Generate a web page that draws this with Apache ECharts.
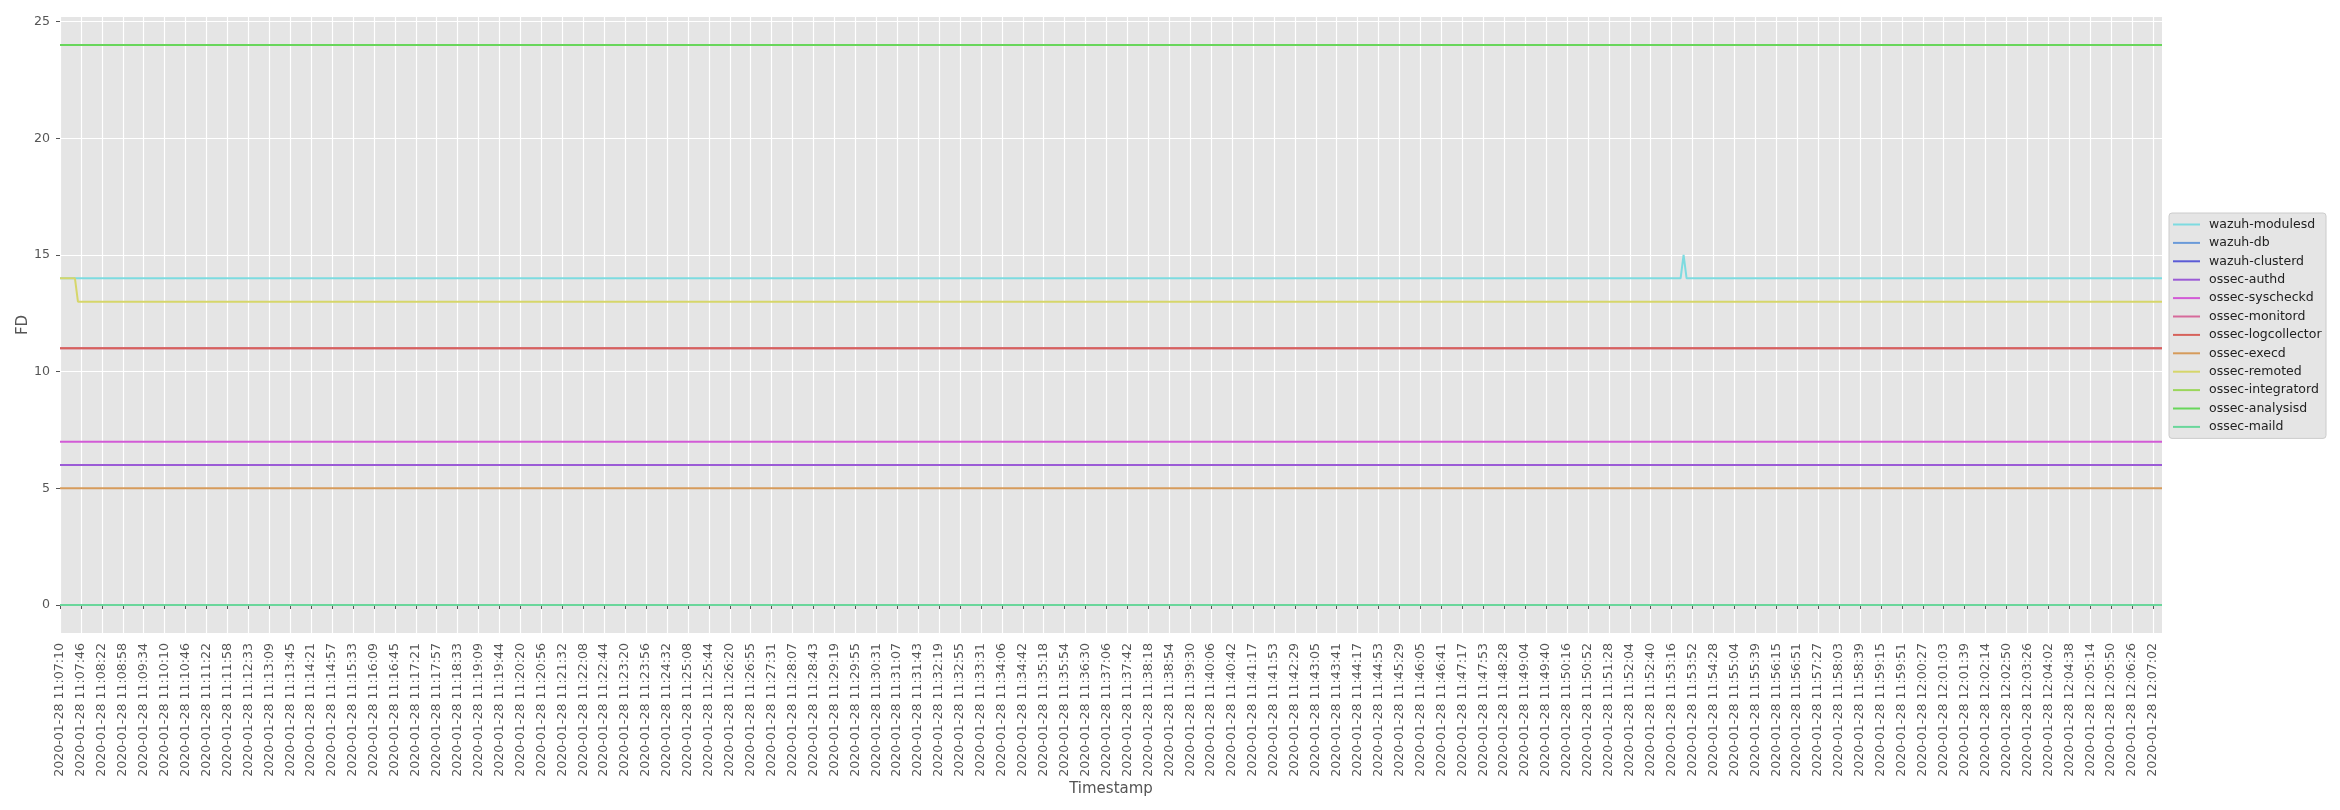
<!DOCTYPE html>
<html>
<head>
<meta charset="utf-8">
<script src="https://cdn.jsdelivr.net/npm/echarts@6/dist/echarts.min.js"></script>
<style>
  html, body { margin: 0; padding: 0; background: #ffffff; }
  #chart { width: 2340px; height: 810px; }
</style>
</head>
<body>
<div id="chart"></div>
<script>
// ---- data ----
const tickLabels = [
  "2020-01-28 11:07:10","2020-01-28 11:07:46","2020-01-28 11:08:22","2020-01-28 11:08:58","2020-01-28 11:09:34",
  "2020-01-28 11:10:10","2020-01-28 11:10:46","2020-01-28 11:11:22","2020-01-28 11:11:58","2020-01-28 11:12:33",
  "2020-01-28 11:13:09","2020-01-28 11:13:45","2020-01-28 11:14:21","2020-01-28 11:14:57","2020-01-28 11:15:33",
  "2020-01-28 11:16:09","2020-01-28 11:16:45","2020-01-28 11:17:21","2020-01-28 11:17:57","2020-01-28 11:18:33",
  "2020-01-28 11:19:09","2020-01-28 11:19:44","2020-01-28 11:20:20","2020-01-28 11:20:56","2020-01-28 11:21:32",
  "2020-01-28 11:22:08","2020-01-28 11:22:44","2020-01-28 11:23:20","2020-01-28 11:23:56","2020-01-28 11:24:32",
  "2020-01-28 11:25:08","2020-01-28 11:25:44","2020-01-28 11:26:20","2020-01-28 11:26:55","2020-01-28 11:27:31",
  "2020-01-28 11:28:07","2020-01-28 11:28:43","2020-01-28 11:29:19","2020-01-28 11:29:55","2020-01-28 11:30:31",
  "2020-01-28 11:31:07","2020-01-28 11:31:43","2020-01-28 11:32:19","2020-01-28 11:32:55","2020-01-28 11:33:31",
  "2020-01-28 11:34:06","2020-01-28 11:34:42","2020-01-28 11:35:18","2020-01-28 11:35:54","2020-01-28 11:36:30",
  "2020-01-28 11:37:06","2020-01-28 11:37:42","2020-01-28 11:38:18","2020-01-28 11:38:54","2020-01-28 11:39:30",
  "2020-01-28 11:40:06","2020-01-28 11:40:42","2020-01-28 11:41:17","2020-01-28 11:41:53","2020-01-28 11:42:29",
  "2020-01-28 11:43:05","2020-01-28 11:43:41","2020-01-28 11:44:17","2020-01-28 11:44:53","2020-01-28 11:45:29",
  "2020-01-28 11:46:05","2020-01-28 11:46:41","2020-01-28 11:47:17","2020-01-28 11:47:53","2020-01-28 11:48:28",
  "2020-01-28 11:49:04","2020-01-28 11:49:40","2020-01-28 11:50:16","2020-01-28 11:50:52","2020-01-28 11:51:28",
  "2020-01-28 11:52:04","2020-01-28 11:52:40","2020-01-28 11:53:16","2020-01-28 11:53:52","2020-01-28 11:54:28",
  "2020-01-28 11:55:04","2020-01-28 11:55:39","2020-01-28 11:56:15","2020-01-28 11:56:51","2020-01-28 11:57:27",
  "2020-01-28 11:58:03","2020-01-28 11:58:39","2020-01-28 11:59:15","2020-01-28 11:59:51","2020-01-28 12:00:27",
  "2020-01-28 12:01:03","2020-01-28 12:01:39","2020-01-28 12:02:14","2020-01-28 12:02:50","2020-01-28 12:03:26",
  "2020-01-28 12:04:02","2020-01-28 12:04:38","2020-01-28 12:05:14","2020-01-28 12:05:50","2020-01-28 12:06:26",
  "2020-01-28 12:07:02"
];
const samplesPerTick = 7;      // samples between labelled ticks
const lastSample = 703;        // index of the last sample
const yTicks = [0, 5, 10, 15, 20, 25];

const seriesNames = [
  "wazuh-modulesd","wazuh-db","wazuh-clusterd","ossec-authd","ossec-syscheckd","ossec-monitord",
  "ossec-logcollector","ossec-execd","ossec-remoted","ossec-integratord","ossec-analysisd","ossec-maild"
];

// [sample index, FD] breakpoints of each series
const wazuhModulesd    = [[0,14],[542,14],[543,15],[544,14],[703,14]];
const wazuhDb          = [[0,0],[703,0]];
const wazuhClusterd    = [[0,0],[703,0]];
const ossecAuthd       = [[0,6],[703,6]];
const ossecSyscheckd   = [[0,7],[703,7]];
const ossecMonitord    = [[0,11],[703,11]];
const ossecLogcollector= [[0,11],[703,11]];
const ossecExecd       = [[0,5],[703,5]];
const ossecRemoted     = [[0,14],[5,14],[6,13],[703,13]];
const ossecIntegratord = [[0,0],[703,0]];
const ossecAnalysisd   = [[0,24],[703,24]];
const ossecMaild       = [[0,0],[703,0]];

const seriesValues = [
  wazuhModulesd, wazuhDb, wazuhClusterd, ossecAuthd, ossecSyscheckd, ossecMonitord,
  ossecLogcollector, ossecExecd, ossecRemoted, ossecIntegratord, ossecAnalysisd, ossecMaild
];

// ---- styles ----
const seriesColors = [
  "#7ddbe0","#6a9ad9","#5b5bd6","#9b5bd6","#d25bd6","#d66a9b",
  "#d6625b","#d69b5b","#d6d66a","#9bd65b","#68d65b","#6ad69b"
];
const FONT = "DejaVu Sans";

const chart = echarts.init(document.getElementById('chart'), null, { renderer: 'canvas' });
const xTickValues = tickLabels.map((_, i) => i * samplesPerTick);

chart.setOption({
  animation: false,
  backgroundColor: '#ffffff',
  grid: {
    left: 60, right: 178, top: 17, bottom: 177,
    show: true, backgroundColor: '#e5e5e5', borderWidth: 0
  },
  legend: {
    orient: 'vertical',
    left: 2169, top: 213,
    icon: 'rect',
    itemWidth: 27, itemHeight: 2, itemGap: 5.4,
    padding: [5, 4.5, 5, 4],
    backgroundColor: '#e5e5e5',
    borderColor: '#cccccc', borderWidth: 1, borderRadius: 3,
    textStyle: { fontFamily: FONT, fontSize: 12.5, color: '#222222', padding: [0, 0, 0, 4] },
    data: seriesNames
  },
  xAxis: {
    type: 'value',
    min: 0, max: lastSample,
    name: 'Timestamp',
    nameLocation: 'middle',
    nameGap: 149,
    nameMoveOverlap: false,
    nameTextStyle: { fontFamily: FONT, fontSize: 15, color: '#555555', verticalAlign: 'top' },
    axisLine: { show: false },
    axisTick: { show: true, length: 4, lineStyle: { color: '#555555', width: 1 }, customValues: xTickValues },
    axisLabel: {
      rotate: 90, margin: 10,
      fontFamily: FONT, fontSize: 12.6, color: '#555555',
      customValues: xTickValues,
      showMinLabel: true, showMaxLabel: true, hideOverlap: false,
      formatter: v => (v % samplesPerTick === 0 ? (tickLabels[v / samplesPerTick] || '') : '')
    },
    splitLine: { show: true, lineStyle: { color: '#ffffff', width: 1.2 } }
  },
  yAxis: {
    type: 'value',
    min: -1.2, max: 25.2,
    name: 'FD',
    nameLocation: 'middle',
    nameGap: 29,
    nameMoveOverlap: false,
    nameRotate: 90,
    nameTextStyle: { fontFamily: FONT, fontSize: 15, color: '#555555' },
    axisLine: { show: false },
    axisTick: { show: true, length: 4, lineStyle: { color: '#555555', width: 1 }, customValues: yTicks },
    axisLabel: {
      margin: 10, fontFamily: FONT, fontSize: 12.6, color: '#555555',
      customValues: yTicks,
      formatter: v => String(v)
    },
    splitLine: { show: true, lineStyle: { color: '#ffffff', width: 1.2 } }
  },
  series: seriesNames.map((name, i) => ({
    name: name,
    type: 'line',
    symbol: 'none',
    color: seriesColors[i],
    lineStyle: { width: 2, color: seriesColors[i] },
    data: seriesValues[i]
  }))
});
</script>
</body>
</html>
